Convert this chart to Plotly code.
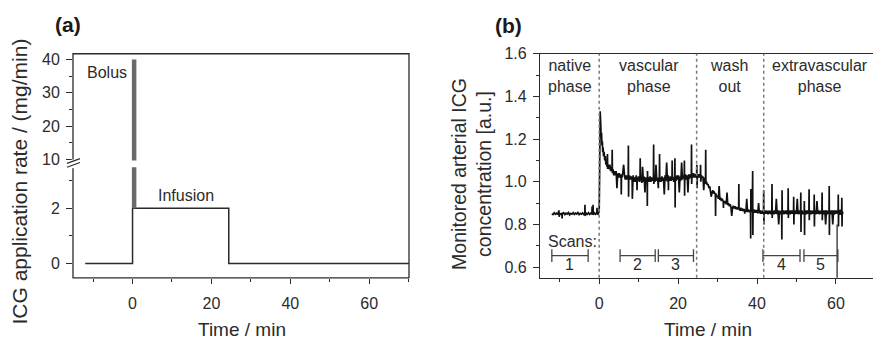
import plotly.graph_objects as go

# ---------------- data ----------------
# (a) ICG application rate, step profile (mg/min)
rate_time = [-12.0, 0.0, 0.0, 24.4, 24.4, 70.1]
rate_value = [0, 0, 2, 2, 0, 0]
bolus_time = 0.4
bolus_rate = 40
bolus_base = 2

# (b) monitored arterial ICG concentration (a.u.)
conc_time = [
    -12.0, -11.7, -11.4, -11.1, -10.8, -10.5, -10.2, -10.15, -10.0, -9.7, -9.45, -9.4,
    -9.35, -9.0, -8.7, -8.4, -8.1, -7.8, -7.5, -7.2, -6.9, -6.6, -6.3, -6.0, -5.7,
    -5.4, -5.1, -4.8, -4.5, -4.2, -3.9, -3.65, -3.6, -3.55, -3.3, -3.0, -2.7, -2.4,
    -2.1, -1.85, -1.8, -1.75, -1.6, -1.55, -1.5, -1.2, -0.9, -0.6, -0.55, -0.5, -0.3,
    -0.1, 0.0,
    0.1, 0.2, 0.25, 0.3, 0.4, 0.5, 0.6, 0.7, 0.8, 0.9, 1.0, 1.1, 1.25, 1.4, 1.55,
    1.7, 1.85, 2.0, 2.1, 2.15, 2.3, 2.5, 2.7, 2.9, 3.1, 3.25, 3.3, 3.35, 3.5, 3.7,
    3.9, 4.1, 4.3, 4.5, 4.7, 4.9, 5.1, 5.3, 5.55, 5.6, 5.65, 5.85, 6.0, 6.2, 6.4,
    6.6, 6.8, 7.0, 7.2, 7.35, 7.4, 7.45, 7.5, 7.7, 7.9, 8.1, 8.35, 8.4, 8.45, 8.6,
    8.8, 9.0, 9.2, 9.4, 9.55, 9.6, 9.65, 9.8, 10.0, 10.2, 10.35, 10.4, 10.45, 10.6,
    10.8, 11.0, 11.2, 11.4, 11.6, 11.8, 12.0, 12.15, 12.2, 12.25, 12.3, 12.5, 12.7,
    12.9, 13.1, 13.3, 13.5, 13.75, 13.8, 13.85, 14.0, 14.2, 14.4, 14.6, 14.8, 14.95,
    15.0, 15.05, 15.25, 15.3, 15.35, 15.5, 15.7, 15.9, 16.1, 16.3, 16.5, 16.7, 16.9,
    17.1, 17.3, 17.5, 17.55, 17.6, 17.8, 18.0, 18.2, 18.45, 18.5, 18.55, 18.7, 18.9,
    19.15, 19.2, 19.25, 19.3, 19.5, 19.7, 19.9, 20.1, 20.3, 20.5, 20.7, 20.9, 21.1,
    21.3, 21.55, 21.6, 21.65, 21.7, 21.9, 22.1, 22.3, 22.5, 22.7, 22.9, 23.1, 23.35,
    23.4, 23.45, 23.5, 23.7, 23.9, 24.1, 24.3, 24.5, 24.7, 24.75, 24.8, 24.9, 25.1,
    25.3, 25.5, 25.65, 25.7, 25.75, 25.9, 26.1, 26.3, 26.5, 26.7, 26.95, 27.0, 27.05,
    27.2, 27.4, 27.6, 27.8, 28.0, 28.2, 28.4, 28.6, 28.8, 29.0, 29.2, 29.45, 29.5,
    29.55, 29.8, 30.0, 30.2, 30.4, 30.6, 30.8, 31.0, 31.2, 31.45, 31.5, 31.55, 31.8,
    32.0, 32.2, 32.4, 32.6, 32.8, 33.0, 33.2, 33.4, 33.6, 33.8, 34.0, 34.2, 34.4,
    34.6, 34.8, 35.0, 35.2, 35.35, 35.4, 35.45, 35.7, 35.9, 36.1, 36.3, 36.5, 36.7,
    36.85, 36.9, 36.95, 37.2, 37.4, 37.6, 37.8, 38.0, 38.2, 38.35, 38.4, 38.45, 38.5,
    38.8, 38.9, 38.95, 39.0, 39.2, 39.4, 39.6, 39.8, 40.0, 40.2, 40.4, 40.6, 40.8,
    41.0, 41.2, 41.4, 41.65, 41.7, 41.75, 41.8, 42.0, 42.2, 42.4, 42.6, 42.8, 43.0,
    43.2, 43.4, 43.6, 43.75, 43.8, 43.85, 43.9, 44.1, 44.3, 44.5, 44.7, 44.9, 45.1,
    45.3, 45.5, 45.7, 45.9, 46.1, 46.25, 46.3, 46.35, 46.4, 46.6, 46.8, 47.0, 47.2,
    47.4, 47.6, 47.85, 47.9, 47.95, 48.0, 48.2, 48.4, 48.6, 48.8, 49.0, 49.25, 49.3,
    49.35, 49.4, 49.6, 49.8, 50.0, 50.2, 50.4, 50.6, 50.8, 51.05, 51.1, 51.15, 51.2,
    51.4, 51.6, 51.95, 52.0, 52.05, 52.1, 52.3, 52.5, 52.7, 52.9, 53.15, 53.2, 53.25,
    53.3, 53.5, 53.7, 53.9, 54.1, 54.3, 54.45, 54.5, 54.55, 54.6, 54.8, 55.0, 55.2,
    55.4, 55.6, 55.8, 56.0, 56.2, 56.45, 56.5, 56.55, 56.6, 56.8, 57.0, 57.2, 57.4,
    57.6, 57.8, 58.0, 58.25, 58.3, 58.35, 58.4, 58.6, 58.8, 59.0, 59.2, 59.4, 59.6,
    59.8, 60.0, 60.2, 60.55, 60.6, 60.65, 60.7, 60.9, 61.1, 61.3, 61.45, 61.5, 61.55,
    61.6, 61.8,
]
conc_value = [
    0.850, 0.846, 0.855, 0.848, 0.853, 0.847, 0.866, 0.836, 0.851, 0.848, 0.853, 0.828,
    0.850, 0.855, 0.846, 0.853, 0.849, 0.856, 0.845, 0.852, 0.848, 0.855, 0.847, 0.853, 0.849,
    0.856, 0.846, 0.852, 0.848, 0.854, 0.847, 0.852, 0.892, 0.840, 0.853, 0.848, 0.855, 0.847,
    0.853, 0.849, 0.884, 0.846, 0.852, 0.892, 0.845, 0.854, 0.848, 0.855, 0.878, 0.850, 0.848,
    0.856, 0.860,
    1.02, 1.20, 1.33, 1.24, 1.27, 1.21, 1.23, 1.17, 1.19, 1.14, 1.16, 1.12, 1.14, 1.10, 1.12,
    1.08, 1.10, 1.07, 1.13, 1.06, 1.08, 1.06, 1.08, 1.05, 1.07, 1.05, 1.15, 1.04, 1.06, 1.03,
    1.05, 1.03, 1.05, 0.97, 1.04, 1.02, 1.04, 1.02, 1.035, 0.94, 1.03, 1.02, 1.04, 1.08, 1.035,
    1.01, 1.03, 1.01, 1.03, 1.01, 1.17, 0.93, 1.02, 1.03, 1.01, 1.025, 1.01, 0.92, 1.02, 1.03,
    1.00, 1.02, 1.00, 1.03, 1.00, 0.96, 1.02, 1.005, 1.025, 1.00, 1.02, 1.11, 1.01, 1.02,
    0.995, 1.07, 1.00, 1.025, 0.95, 1.02, 1.00, 1.02, 0.886, 1.05, 1.01, 1.02, 1.00,
    1.025, 1.00, 1.02, 1.005, 1.02, 1.175, 0.99, 1.02, 1.00, 1.08, 1.005, 1.02, 1.00,
    0.97, 1.02, 1.01, 1.13, 1.00, 1.02, 1.00, 1.025, 1.005, 1.02, 0.94, 1.03, 1.005,
    1.09, 1.00, 1.03, 0.96, 1.02, 1.005, 1.025, 1.005, 1.02, 1.10, 1.01, 1.02, 1.00,
    1.03, 1.11, 0.88, 1.02, 1.005, 1.03, 1.01, 1.03, 0.95, 1.025, 1.005, 1.09, 1.01,
    1.03, 1.02, 1.10, 0.935, 1.02, 1.035, 1.01, 1.03, 0.95, 1.035, 1.015, 1.035, 1.02,
    1.175, 0.99, 1.03, 1.02, 1.04, 1.02, 1.035, 1.02, 1.035, 1.08, 0.97, 1.03, 1.02,
    1.035, 1.02, 1.03, 1.08, 1.00, 1.03, 1.02, 1.025, 0.96, 1.02, 1.00, 1.15, 0.99,
    1.00, 0.985, 0.99, 0.97, 0.98, 0.96, 0.93, 0.95, 0.96, 0.945, 0.95, 0.94, 0.84,
    0.945, 0.93, 0.935, 0.92, 0.98, 0.915, 0.925, 0.91, 0.92, 0.905, 0.877, 0.91, 0.90,
    0.91, 0.895, 0.95, 0.89, 0.90, 0.885, 0.895, 0.88, 0.84, 0.878, 0.888, 0.875, 0.885,
    0.872, 0.882, 0.87, 0.88, 0.87, 0.99, 0.875, 0.865, 0.878, 0.865, 0.875, 0.862, 0.872,
    0.862, 0.85, 0.87, 0.86, 0.92, 0.858, 0.87, 0.858, 0.868, 0.858, 0.734, 0.966, 0.865,
    0.86, 1.05, 0.75, 0.86, 0.87, 0.855, 0.868, 0.855, 0.868, 0.852, 0.90, 0.852, 0.866,
    0.85, 0.864, 0.85, 0.865, 0.96, 0.80, 0.86, 0.85, 0.866, 0.85, 0.865, 0.848, 0.864,
    0.85, 0.865, 0.848, 0.86, 0.99, 0.83, 0.858, 0.865, 0.848, 0.866, 0.85, 0.92, 0.848,
    0.866, 0.80, 0.865, 0.848, 0.864, 0.85, 0.73, 0.96, 0.855, 0.866, 0.848, 0.865, 0.85,
    0.866, 0.848, 0.86, 0.97, 0.83, 0.858, 0.866, 0.848, 0.866, 0.85, 0.866, 0.85, 0.93,
    0.80, 0.86, 0.848, 0.866, 0.85, 0.92, 0.848, 0.866, 0.85, 0.86, 0.95, 0.765, 0.86,
    0.866, 0.848, 0.86, 0.91, 0.75, 0.86, 0.866, 0.848, 0.866, 0.85, 0.862, 0.965, 0.82,
    0.858, 0.866, 0.848, 0.865, 0.85, 0.866, 0.85, 0.94, 0.79, 0.858, 0.866, 0.848, 0.91,
    0.85, 0.866, 0.848, 0.864, 0.85, 0.862, 0.95, 0.82, 0.858, 0.866, 0.848, 0.866, 0.80,
    0.866, 0.848, 0.865, 0.85, 0.98, 0.75, 0.86, 0.866, 0.848, 0.866, 0.80, 0.866, 0.846,
    0.866, 0.85, 0.866, 0.85, 0.94, 0.79, 0.86, 0.868, 0.845, 0.87, 0.85, 0.925, 0.79,
    0.86, 0.85,
]
recording_cut_time = 60.3
recording_cut_level = 0.80

# phase boundaries and labels
phase_bounds = [0.0, 24.7, 41.7]
phase_labels = ["native<br>phase", "vascular<br>phase", "wash<br>out", "extravascular<br>phase"]
phase_centers = [-7.5, 12.7, 32.8, 56.0]

# scan intervals (min)
scan_names = ["1", "2", "3", "4", "5"]
scan_start = [-12.0, 5.3, 15.0, 41.5, 51.9]
scan_end = [-2.8, 14.2, 23.9, 50.9, 60.5]
scan_bar_level = 0.654
scan_label_level = 0.613

# ---------------- layout helpers ----------------
W, H = 873, 343
def fx(px):
    return px / W
def fy(py):
    return 1 - py / H

INK = "#2b2b2b"
FONT = "Liberation Sans, Arial, sans-serif"

fig = go.Figure()

# ---- panel (a) ----
fig.add_trace(go.Scatter(x=rate_time, y=rate_value, mode="lines",
                         line=dict(color=INK, width=1.5), xaxis="x", yaxis="y",
                         showlegend=False, hoverinfo="skip"))
# bolus bar drawn on both axis segments so the break gap shows
for ax in ("y", "y2"):
    fig.add_trace(go.Scatter(x=[bolus_time, bolus_time], y=[bolus_base, bolus_rate],
                             mode="lines", line=dict(color="#6a6a6a", width=4.5),
                             xaxis="x", yaxis=ax, showlegend=False, hoverinfo="skip"))

# ---- panel (b) ----
fig.add_trace(go.Scatter(x=conc_time, y=conc_value, mode="lines",
                         line=dict(color="#111111", width=1.7), xaxis="x2", yaxis="y3",
                         showlegend=False, hoverinfo="skip"))
fig.add_trace(go.Scatter(x=[recording_cut_time, recording_cut_time], y=[0.5, recording_cut_level],
                         mode="lines", line=dict(color=INK, width=1.3), xaxis="x2", yaxis="y3",
                         showlegend=False, hoverinfo="skip"))

# scan brackets
sx, sy = [], []
for s, e in zip(scan_start, scan_end):
    sx += [s, e, None]
    sy += [scan_bar_level, scan_bar_level, None]
fig.add_trace(go.Scatter(x=sx, y=sy, mode="lines+markers",
                         line=dict(color="#444444", width=1.3),
                         marker=dict(symbol="line-ns", size=9,
                                     line=dict(color="#444444", width=1.3)),
                         xaxis="x2", yaxis="y3", showlegend=False, hoverinfo="skip"))

tick_font = dict(family=FONT, size=16, color=INK)
minor_style = dict(ticks="outside", ticklen=3, tickwidth=1.2, tickcolor=INK)
common_x = dict(showgrid=False, zeroline=False, ticks="outside",
                ticklen=5, tickwidth=1.2, tickcolor=INK, tickfont=tick_font,
                dtick=20, tick0=0, ticklabelstandoff=6,
                minor=dict(dtick=10, tick0=0, **minor_style))
common_y = dict(showgrid=False, zeroline=False, ticks="outside", ticklen=6,
                tickwidth=1.2, tickcolor=INK, tickfont=tick_font, ticklabelstandoff=3)

fig.update_layout(
    width=W, height=H,
    margin=dict(l=0, r=0, t=0, b=0),
    paper_bgcolor="white", plot_bgcolor="white",
    font=dict(family=FONT, color=INK),
    xaxis=dict(domain=[fx(73), fx(409)], range=[-15.1, 70.1], anchor="y",
               showline=False, **common_x),
    yaxis=dict(domain=[fy(283), fy(167)], range=[-0.52, 3.48], anchor="x",
               showline=False, dtick=2, tick0=0,
               minor=dict(dtick=1, tick0=0, **minor_style), **common_y),
    yaxis2=dict(domain=[fy(160), fy(48)], range=[9.7, 41.7], anchor="x",
                showline=False, dtick=10, tick0=0,
                minor=dict(dtick=5, tick0=0, **minor_style), **common_y),
    xaxis2=dict(domain=[fx(540), 1.0], range=[-15.0, 69.4], anchor="y3",
                showline=True, linecolor=INK, linewidth=1.3, mirror=True, **common_x),
    yaxis3=dict(domain=[fy(283), fy(48)], range=[0.55, 1.6], anchor="x2",
                showline=True, linecolor=INK, linewidth=1.3, mirror=False,
                dtick=0.2, tick0=0.6, tickformat=".1f",
                minor=dict(dtick=0.1, tick0=0.6, **minor_style), **common_y),
)

shapes = []
# frame of panel (a)
shapes.append(dict(type="rect", xref="paper", yref="paper",
                   x0=fx(73), x1=fx(409), y0=fy(283), y1=fy(48),
                   line=dict(color=INK, width=1.3), fillcolor="rgba(0,0,0,0)"))
# axis break on the left edge of panel (a)
shapes.append(dict(type="line", xref="paper", yref="paper",
                   x0=fx(73), x1=fx(73), y0=fy(168), y1=fy(159),
                   line=dict(color="white", width=3)))
for off in (0, 4):
    shapes.append(dict(type="line", xref="paper", yref="paper",
                       x0=fx(67), x1=fx(80), y0=fy(163 + off), y1=fy(158 + off),
                       line=dict(color=INK, width=1.2)))
# phase separators in panel (b)
for b in phase_bounds:
    shapes.append(dict(type="line", xref="x2", yref="y3 domain", x0=b, x1=b, y0=0, y1=1,
                       line=dict(color="#7a7a7a", width=1.5, dash="dot")))
fig.update_layout(shapes=shapes)


def label(text, x, y, xref="paper", yref="paper", size=16, **kw):
    return dict(text=text, x=x, y=y, xref=xref, yref=yref, showarrow=False,
                xanchor=kw.pop("xanchor", "center"), yanchor="middle",
                font=dict(family=FONT, size=size, color=kw.pop("color", INK)), **kw)


ann = [
    label("<b>(a)</b>", fx(68), fy(17), size=21, color="#1a1a1a"),
    label("<b>(b)</b>", fx(508), fy(18), size=21, color="#1a1a1a"),
    label("ICG application rate / (mg/min)", fx(20), fy(182), size=21, textangle=-90),
    label("Monitored arterial ICG<br>concentration [a.u.]", fx(472), fy(174), size=19.5,
          textangle=-90),
    label("Time / min", fx(242), fy(337), size=19),
    label("Time / min", fx(708), fy(337), size=19),
    label("Bolus", -6.6, 36.2, "x", "y2"),
    label("Infusion", 13.5, 2.45, "x", "y"),
    label("Scans:", -13.4, 0.72, "x2", "y3", xanchor="left"),
]
for lab, c in zip(phase_labels, phase_centers):
    ann.append(label(lab, c, fy(71), "x2", "paper"))
for n, s, e in zip(scan_names, scan_start, scan_end):
    ann.append(label(n, (s + e) / 2, scan_label_level, "x2", "y3"))
fig.update_layout(annotations=ann)

fig.write_html("out.html")
